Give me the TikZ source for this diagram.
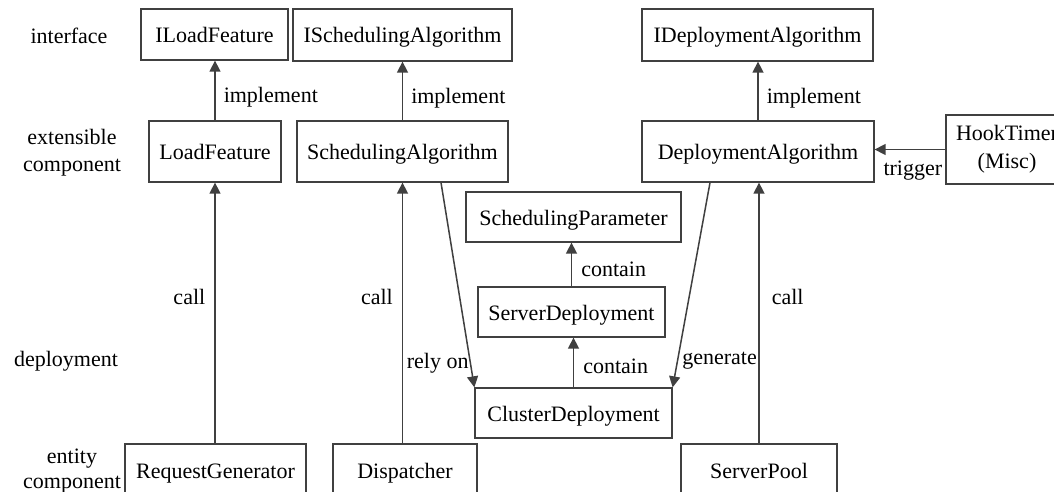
\documentclass[tikz,border=0pt]{standalone}
\usepackage{fontspec}
\setmainfont{Liberation Serif}
\usetikzlibrary{arrows.meta,calc}
\definecolor{linec}{HTML}{404040}
\begin{document}
\begin{tikzpicture}[x=1pt,y=-1pt,
  every node/.style={font=\fontsize{22}{25.5}\selectfont, text=black},
  box/.style={draw=linec, line width=1.3pt, inner sep=0pt, fill=white},
  sbox/.style={box, text height=16pt, text depth=0pt},
  conn/.style={draw=linec, line width=1.5pt, -{Triangle[length=11pt,width=11pt]}},
  lbl/.style={inner sep=0pt, fill=none}
]
\fill[white] (0,0) rectangle (1054,492);
\useasboundingbox (0,0) rectangle (1054,492);

% interfaces
\node[sbox, minimum width=147pt, minimum height=51pt] (ilf) at (214.5,34.5) {ILoadFeature};
\node[sbox, minimum width=219pt, minimum height=52pt] (isa) at (402.5,35) {ISchedulingAlgorithm};
\node[sbox, minimum width=231pt, minimum height=52pt] (ida) at (757.5,35) {IDeploymentAlgorithm};
% extensible components
\node[sbox, minimum width=132pt, minimum height=61pt] (lf) at (215,151.5) {LoadFeature};
\node[sbox, minimum width=211pt, minimum height=61pt] (sa) at (402.5,151.5) {SchedulingAlgorithm};
\node[sbox, minimum width=232pt, minimum height=61pt] (da) at (758,151.5) {DeploymentAlgorithm};
\node[box, minimum width=122pt, minimum height=69pt, align=center,
      font=\fontsize{22}{28}\selectfont] (ht) at (1007,149.5) {HookTimer\\(Misc)};
% deployment
\node[sbox, minimum width=215pt, minimum height=50pt] (sp) at (573.5,217) {SchedulingParameter};
\node[sbox, minimum width=187pt, minimum height=50pt] (sd) at (571.5,312) {ServerDeployment};
\node[sbox, minimum width=197pt, minimum height=50pt] (cd) at (573.5,413) {ClusterDeployment};
% entity components
\node[sbox, minimum width=181pt, minimum height=52pt] (rg) at (215.5,470) {RequestGenerator};
\node[sbox, minimum width=144pt, minimum height=52pt] (dp) at (405,470) {Dispatcher};
\node[sbox, minimum width=156pt, minimum height=52pt] (pool) at (759,470) {ServerPool};

% row labels
\node (l1) at (69,36) {interface};
\node[align=center, font=\fontsize{22}{27}\selectfont] (l2) at (72,153) {extensible\\component};
\node (l3) at (66,361) {deployment};
\node[align=center] (l4) at (72,471) {entity\\component};

% connectors
\draw[conn] (lf.north) -- (lf.north |- ilf.south)
  node[lbl, anchor=west, pos=0.38, xshift=8pt] {implement};
\draw[conn] (sa.north) -- (sa.north |- isa.south)
  node[lbl, anchor=west, pos=0.38, xshift=8pt] {implement};
\draw[conn] (da.north) -- (da.north |- ida.south)
  node[lbl, anchor=west, pos=0.38, xshift=8pt] {implement};

\draw[conn] (rg.north -| lf.south) -- (lf.south)
  node[lbl, anchor=east, pos=0.56, xshift=-9pt] {call};
\draw[conn] (dp.north -| sa.south) -- (sa.south)
  node[lbl, anchor=east, pos=0.56, xshift=-9pt] {call};
\draw[conn] (pool.north) -- (pool.north |- da.south)
  node[lbl, anchor=west, pos=0.56, xshift=12pt] {call};

\draw[conn] ([xshift=38.5pt]sa.south) -- (cd.north west)
  node[lbl, anchor=east, pos=0.88, xshift=-1pt] {rely on};
\draw[conn] ([xshift=-48pt]da.south) -- (cd.north east)
  node[lbl, anchor=west, pos=0.87, xshift=4pt] {generate};

\draw[conn] (cd.north) -- (cd.north |- sd.south)
  node[lbl, anchor=west, pos=0.43, xshift=9pt] {contain};
\draw[conn] (sd.north) -- (sd.north |- sp.south)
  node[lbl, anchor=west, pos=0.4, xshift=9pt] {contain};

\draw[conn] (ht.west) -- (ht.west -| da.east)
  node[lbl, anchor=north, pos=0.46, yshift=-11pt] {trigger};
\end{tikzpicture}
\end{document}
